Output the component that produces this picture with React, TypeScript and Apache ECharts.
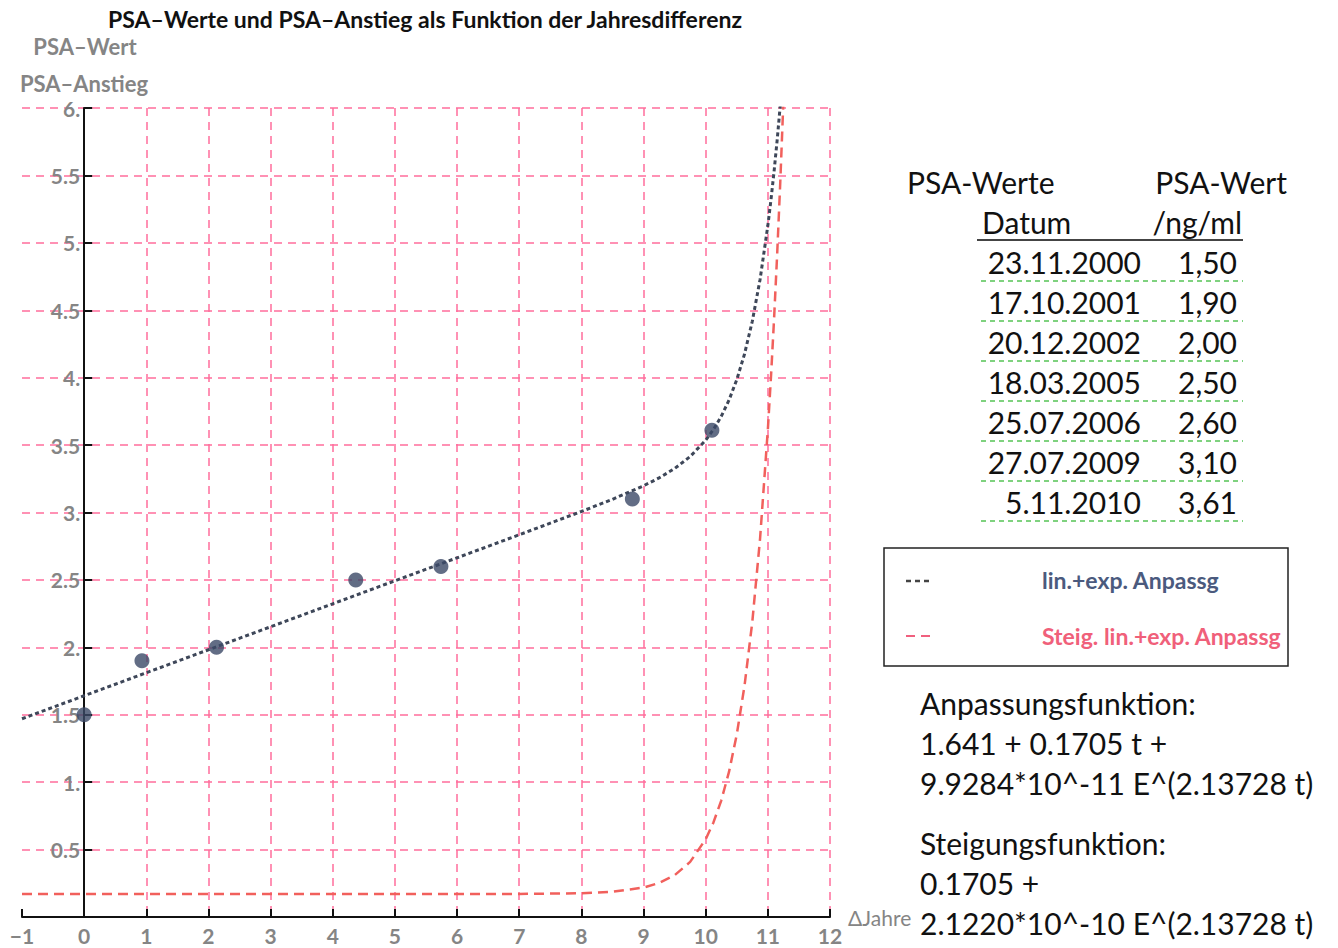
import React, { useEffect, useRef } from "react";
import * as echarts from "echarts";

const titleText = "PSA–Werte und PSA–Anstieg als Funktion der Jahresdifferenz";
const yNames = ["PSA–Wert", "PSA–Anstieg"];
const xName = "ΔJahre";

// measured points (years since first measurement, PSA ng/ml)
const measX = [0, 0.93, 2.13, 4.37, 5.74, 8.82, 10.1];
const measY = [1.5, 1.9, 2.0, 2.5, 2.6, 3.1, 3.61];

// fitted curve and slope curve
const curveT = [-1, 0, 1, 2, 3, 4, 5, 6, 7, 8, 8.5, 9, 9.25, 9.5, 9.75, 10, 10.125, 10.25, 10.375, 10.5, 10.625, 10.75, 10.875, 11, 11.05, 11.1, 11.15, 11.2, 11.25];
const fitY = [1.4705, 1.641, 1.8115, 1.982, 2.1525, 2.323, 2.4935, 2.664, 2.8348, 3.0076, 3.098, 3.1979, 3.2564, 3.3261, 3.4148, 3.5361, 3.6156, 3.713, 3.8336, 3.9848, 4.1756, 4.4183, 4.7288, 5.1279, 5.3183, 5.5289, 5.7624, 6.0213, 6.3];
const slopeY = [0.1705, 0.1705, 0.1705, 0.1705, 0.1705, 0.1705, 0.1705, 0.1706, 0.1712, 0.1762, 0.187, 0.2184, 0.2523, 0.3101, 0.4086, 0.5768, 0.7013, 0.8637, 1.0761, 1.3535, 1.7157, 2.189, 2.807, 3.6146, 4.0031, 4.4351, 4.916, 5.451, 6.0469];

// table
const tableHead = ["PSA-Werte", "PSA-Wert", "Datum", "/ng/ml"];
const tableDates = ["23.11.2000", "17.10.2001", "20.12.2002", "18.03.2005", "25.07.2006", "27.07.2009", "5.11.2010"];
const tableValues = ["1,50", "1,90", "2,00", "2,50", "2,60", "3,10", "3,61"];

const legendNames = ["lin.+exp. Anpassg", "Steig. lin.+exp. Anpassg"];
const formulaLines = [
  "Anpassungsfunktion:",
  "1.641 + 0.1705 t +",
  "9.9284*10^-11 E^(2.13728 t)",
];
const slopeLines = ["Steigungsfunktion:", "0.1705 +", "2.1220*10^-10 E^(2.13728 t)"];

const FONT = "Lato, 'Open Sans', sans-serif";
const GRID_PINK = "#ff6d9c";
const FIT_COLOR = "#3e4759";
const SLOPE_COLOR = "#f1605c";
const POINT_COLOR = "#3b4866";
const LABEL_GRAY = "#858585";

const GRID_LEFT = 22;
const GRID_RIGHT = 508;
const X_MIN = -1;
const X_MAX = 12;

function txt(text: string, x: number, y: number, font: string, fill: string, align = "left", vAlign = "middle") {
  return {
    type: "text",
    x,
    y,
    z: 100,
    style: {
      text,
      font,
      fill,
      align,
      verticalAlign: vAlign,
      textAlign: align,
      textVerticalAlign: vAlign,
    },
  };
}

export default function App() {
  const ref = useRef<HTMLDivElement>(null);

  useEffect(() => {
    document.body.style.margin = "0";
    if (!ref.current) return;
    const chart = echarts.init(ref.current, undefined, { renderer: "svg" });

    // offset that puts the y axis where x = 0
    const plotW = 1338 - GRID_LEFT - GRID_RIGHT;
    const yAxisOffset = -((0 - X_MIN) / (X_MAX - X_MIN)) * plotW;

    const graphics: any[] = [];
    graphics.push(txt(titleText, 425, 19, `bold 23px ${FONT}`, "#111", "center"));
    graphics.push(txt(yNames[0], 85, 46, `bold 22px ${FONT}`, LABEL_GRAY, "center"));
    graphics.push(txt(yNames[1], 84, 83, `bold 22px ${FONT}`, LABEL_GRAY, "center"));

    // table
    const tf = `30px ${FONT}`;
    graphics.push(txt(tableHead[0], 907, 182, tf, "#111", "left"));
    graphics.push(txt(tableHead[1], 1287, 182, tf, "#111", "right"));
    graphics.push(txt(tableHead[2], 982, 222, tf, "#111", "left"));
    graphics.push(txt(tableHead[3], 1242, 222, tf, "#111", "right"));
    graphics.push({
      type: "line",
      z: 100,
      shape: { x1: 977, y1: 240, x2: 1243, y2: 240 },
      style: { stroke: "#444", lineWidth: 2 },
    });
    tableDates.forEach((d, i) => {
      const y = 262 + i * 40;
      graphics.push(txt(d, 1141, y, tf, "#111", "right"));
      graphics.push(txt(tableValues[i], 1237, y, tf, "#111", "right"));
      graphics.push({
        type: "line",
        z: 100,
        shape: { x1: 981, y1: y + 19, x2: 1243, y2: y + 19 },
        style: { stroke: "#7fd27f", lineWidth: 2, lineDash: [5, 4] },
      });
    });

    // legend box
    graphics.push({
      type: "rect",
      z: 100,
      shape: { x: 884, y: 548, width: 404, height: 118 },
      style: { fill: "none", stroke: "#222", lineWidth: 1.5 },
    });
    graphics.push({
      type: "line",
      z: 100,
      shape: { x1: 906, y1: 581, x2: 931, y2: 581 },
      style: { stroke: "#444", lineWidth: 2.5, lineDash: [5, 4] },
    });
    graphics.push({
      type: "line",
      z: 100,
      shape: { x1: 906, y1: 636, x2: 931, y2: 636 },
      style: { stroke: "#f0607e", lineWidth: 2, lineDash: [9, 6] },
    });
    graphics.push(txt(legendNames[0], 1042, 580, `bold 23px ${FONT}`, "#4b5a7e"));
    graphics.push(txt(legendNames[1], 1042, 636, `bold 23px ${FONT}`, "#f0607a"));

    const ff = `30px ${FONT}`;
    formulaLines.forEach((l, i) => graphics.push(txt(l, 920, 703 + i * 40, ff, "#111")));
    slopeLines.forEach((l, i) => graphics.push(txt(l, 920, 843 + i * 40, ff, "#111")));

    const option: any = {
      animation: false,
      backgroundColor: "#ffffff",
      textStyle: { fontFamily: FONT },
      grid: { left: GRID_LEFT, right: GRID_RIGHT, top: 108, bottom: 31, containLabel: false, outerBoundsMode: "none" },
      xAxis: {
        type: "value",
        min: X_MIN,
        max: X_MAX,
        interval: 1,
        name: xName,
        nameLocation: "end",
        nameGap: 14,
        nameTextStyle: { color: LABEL_GRAY, fontSize: 21, fontFamily: FONT, verticalAlign: "middle" },
        axisLine: { show: true, onZero: false, lineStyle: { color: "#111", width: 2 } },
        axisTick: { show: true, inside: true, length: 8, lineStyle: { color: "#111", width: 2 } },
        axisLabel: {
          color: LABEL_GRAY,
          fontSize: 21,
          fontWeight: "bold",
          fontFamily: FONT,
          margin: 8,
          formatter: (v: number) => (v < 0 ? "−" + Math.abs(v) : String(v)),
        },
        splitLine: {
          show: true,
          showMinLine: false,
          showMaxLine: true,
          lineStyle: { color: GRID_PINK, width: 1.5, type: [8, 6] },
        },
      },
      yAxis: {
        type: "value",
        min: 0,
        max: 6,
        interval: 0.5,
        position: "left",
        offset: yAxisOffset,
        axisLine: { show: true, onZero: false, lineStyle: { color: "#111", width: 2 } },
        axisTick: { show: true, inside: true, length: 8, lineStyle: { color: "#111", width: 2 } },
        axisLabel: {
          color: LABEL_GRAY,
          fontSize: 21,
          fontWeight: "bold",
          fontFamily: FONT,
          margin: 4,
          formatter: (v: number) => (v === 0 ? "" : Number.isInteger(v) ? v + "." : String(v)),
        },
        splitLine: {
          show: true,
          showMinLine: false,
          showMaxLine: true,
          lineStyle: { color: GRID_PINK, width: 1.5, type: [8, 6] },
        },
      },
      series: [
        {
          type: "line",
          name: legendNames[1],
          data: curveT.map((t, i) => [t, slopeY[i]]),
          showSymbol: false,
          clip: true,
          smooth: false,
          lineStyle: { color: SLOPE_COLOR, width: 2.5, type: [10, 6] },
          z: 3,
        },
        {
          type: "line",
          name: legendNames[0],
          data: curveT.map((t, i) => [t, fitY[i]]),
          showSymbol: false,
          clip: true,
          smooth: false,
          lineStyle: { color: FIT_COLOR, width: 3, type: [4, 3] },
          z: 4,
        },
        {
          type: "scatter",
          data: measX.map((x, i) => [x, measY[i]]),
          symbolSize: 15,
          itemStyle: { color: POINT_COLOR },
          z: 5,
        },
      ],
      graphic: graphics,
    };

    chart.setOption(option);
    return () => chart.dispose();
  }, []);

  return <div ref={ref} style={{ width: 1338, height: 948 }} />;
}
